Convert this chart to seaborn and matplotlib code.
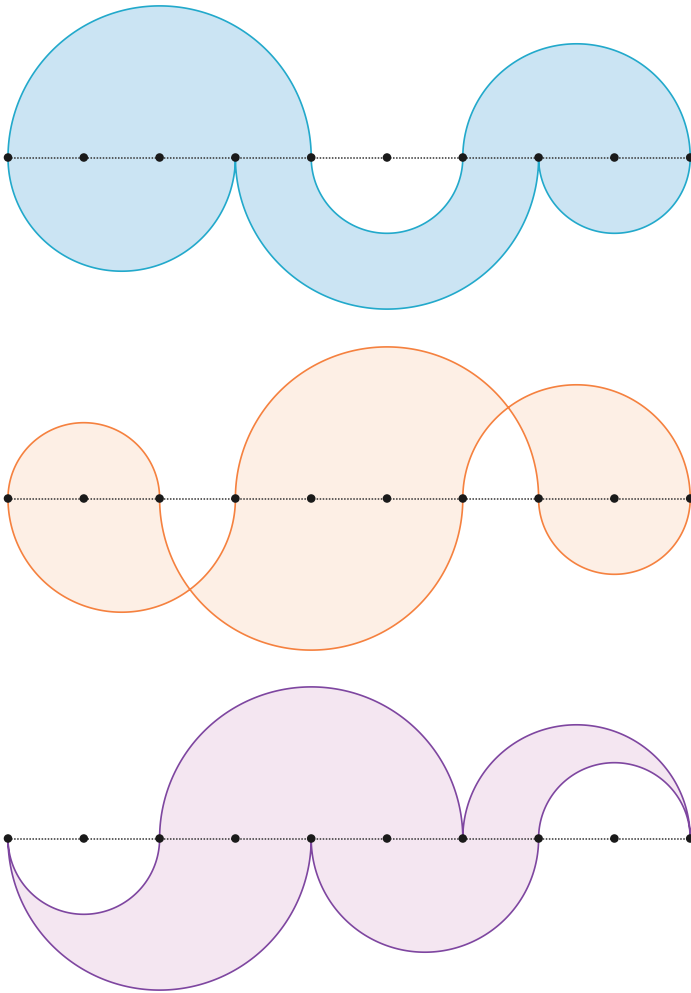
import numpy as np
import pandas as pd
import matplotlib
matplotlib.use("Agg")
import matplotlib.pyplot as plt
from matplotlib.path import Path
from matplotlib.patches import PathPatch
import seaborn as sns

sns.set_theme(style="white")

# Data: marked points along the line and arcs (start, end, side) for each figure
points = list(range(10))
arcs_blue = [(0, 4, "up"), (4, 6, "down"), (6, 9, "up"), (9, 7, "down"), (7, 3, "down"), (3, 0, "down")]
arcs_orange = [(0, 2, "up"), (2, 6, "down"), (6, 9, "up"), (9, 7, "down"), (7, 3, "up"), (3, 0, "down")]
arcs_purple = [(0, 4, "down"), (4, 7, "down"), (7, 9, "up"), (9, 6, "up"), (6, 2, "up"), (2, 0, "down")]

panels = [
    (arcs_blue, "#22a9cb", "#cbe4f3"),
    (arcs_orange, "#f5813f", "#fdefe5"),
    (arcs_purple, "#7e46a0", "#f4e6f1"),
]

W, H = 691, 993
scale = 75.8      # px per unit
x0 = 8            # px of point 0
bands = [(0, 330, 157.5), (330, 668, 498.5), (668, 993, 838.5)]  # top, bottom, axis row (px)


def arc_points(s, e, side, n=200):
    c = (s + e) / 2.0
    r = abs(e - s) / 2.0
    t = np.linspace(np.pi, 0, n) if s < e else np.linspace(0, np.pi, n)
    sign = 1 if side == "up" else -1
    return c + r * np.cos(t), sign * r * np.sin(t)


fig = plt.figure(figsize=(W / 100, H / 100), dpi=100)
fig.patch.set_facecolor("white")

for (arcs, edge, fill), (top, bot, axrow) in zip(panels, bands):
    ax = fig.add_axes([0, (H - bot) / H, 1, (bot - top) / H])
    ax.set_xlim(-x0 / scale, (W - x0) / scale)
    ax.set_ylim(-(bot - axrow) / scale, (axrow - top) / scale)
    ax.set_axis_off()
    ax.patch.set_alpha(0)

    xs, ys = [], []
    for s, e, side in arcs:
        ax_, ay_ = arc_points(s, e, side)
        xs.extend(ax_)
        ys.extend(ay_)
    verts = np.column_stack([xs, ys])
    path = Path(np.vstack([verts, verts[:1]]), closed=True)
    ax.add_patch(PathPatch(path, facecolor=fill, edgecolor="none", zorder=1))
    ax.add_patch(PathPatch(path, facecolor="none", edgecolor=edge, lw=1.2, zorder=2))

    line_df = pd.DataFrame({"x": [points[0], points[-1]], "y": [0, 0]})
    sns.lineplot(data=line_df, x="x", y="y", ax=ax, color="#333333", lw=1.1,
                 linestyle=(0, (1, 1)), zorder=3)
    pts_df = pd.DataFrame({"x": points, "y": [0] * len(points)})
    sns.scatterplot(data=pts_df, x="x", y="y", ax=ax, color="#1a1a1a", s=38,
                    edgecolor="none", zorder=4)
    ax.set_xlabel("")
    ax.set_ylabel("")

fig.savefig("out.png", dpi=100, facecolor="white")
